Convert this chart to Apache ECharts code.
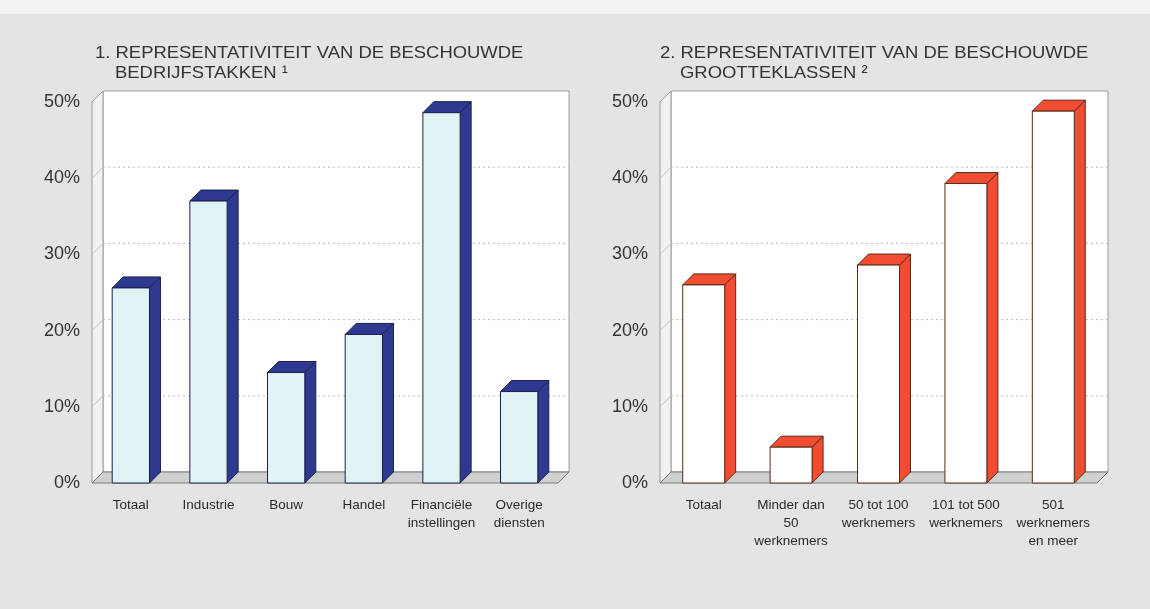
<!DOCTYPE html>
<html>
<head>
<meta charset="utf-8">
<script src="https://cdn.jsdelivr.net/npm/echarts@6/dist/echarts.min.js"></script>
<style>
  html, body { margin: 0; padding: 0; background: #e3e5e4; }
  #chart { width: 1150px; height: 609px; }
</style>
</head>
<body>
<div id="chart"></div>
<script>
// Sector representativeness (share of firms, %)
const sectorCategories = ['Totaal', 'Industrie', 'Bouw', 'Handel', 'Financiële\ninstellingen', 'Overige\ndiensten'];
const sectorValues = [25.6, 37.0, 14.5, 19.5, 48.6, 12.0];

// Size-class representativeness (share of firms, %)
const sizeCategories = ['Totaal', 'Minder dan\n50\nwerknemers', '50 tot 100\nwerknemers', '101 tot 500\nwerknemers', '501\nwerknemers\nen meer'];
const sizeValues = [26.0, 4.7, 28.6, 39.3, 48.8];

const yTicks = [0, 10, 20, 30, 40, 50];

// Panel headings: number, first line, second line
const panelTitles = [
  ['1.', 'REPRESENTATIVITEIT VAN DE BESCHOUWDE', 'BEDRIJFSTAKKEN ¹'],
  ['2.', 'REPRESENTATIVITEIT VAN DE BESCHOUWDE', 'GROOTTEKLASSEN ²']
];

const DEPTH = 11;          // oblique depth offset of the 3D look
const BAR_RATIO = 0.48;    // bar width as share of the category band
const FONT = 'Liberation Sans, Arial, Helvetica, sans-serif';

// Back wall, side wall, floor and wall gridlines of the 3D frame
function frameRenderer(params, api) {
  const cs = params.coordSys;
  const xL = cs.x, xR = cs.x + cs.width, yT = cs.y, yB = cs.y + cs.height;
  const D = DEPTH;
  const children = [
    { type: 'rect', shape: { x: xL + D, y: yT - D, width: cs.width, height: cs.height },
      style: { fill: '#ffffff', stroke: '#9a9a9a', lineWidth: 1 } },
    { type: 'polygon', shape: { points: [[xL, yT], [xL + D, yT - D], [xL + D, yB - D], [xL, yB]] },
      style: { fill: '#f0f1f1', stroke: '#9a9a9a', lineWidth: 1 } },
    { type: 'polygon', shape: { points: [[xL, yB], [xL + D, yB - D], [xR + D, yB - D], [xR, yB]] },
      style: { fill: '#cfd1d1', stroke: '#7a7a7a', lineWidth: 1 } }
  ];
  yTicks.forEach(function (t) {
    if (t === 0 || t === 50) return;
    const y = api.coord([0, t])[1] - D;
    children.push({ type: 'line', shape: { x1: xL + D, y1: y, x2: xR + D, y2: y },
      style: { stroke: '#bcbcbc', lineWidth: 1, lineDash: [2, 3] } });
    children.push({ type: 'line', shape: { x1: xL, y1: y + D, x2: xL + D, y2: y },
      style: { stroke: '#c4c4c4', lineWidth: 1 } });
  });
  return { type: 'group', children: children };
}

function barRenderer(front, dark, edge) {
  return function (params, api) {
    const idx = api.value(0), v = api.value(1);
    const base = api.coord([idx, 0]);
    const top = api.coord([idx, v]);
    const bw = api.size([1, 0])[0] * BAR_RATIO;
    const x0 = base[0] - bw / 2, x1 = base[0] + bw / 2;
    const yT = top[1], yB = base[1];
    const D = DEPTH;
    return {
      type: 'group',
      children: [
        { type: 'polygon', shape: { points: [[x1, yT], [x1 + D, yT - D], [x1 + D, yB - D], [x1, yB]] },
          style: { fill: dark, stroke: edge, lineWidth: 1 } },
        { type: 'polygon', shape: { points: [[x0, yT], [x1, yT], [x1 + D, yT - D], [x0 + D, yT - D]] },
          style: { fill: dark, stroke: edge, lineWidth: 1 } },
        { type: 'rect', shape: { x: x0, y: yT, width: bw, height: yB - yT },
          style: { fill: front, stroke: edge, lineWidth: 1 } }
      ]
    };
  };
}

function xAxisFor(cats, gridIndex) {
  return {
    type: 'category', gridIndex: gridIndex, data: cats,
    axisLine: { show: false }, axisTick: { show: false }, splitLine: { show: false },
    axisLabel: { fontSize: 13.5, lineHeight: 18, margin: 13, interval: 0, color: '#2a2a2a', fontFamily: FONT }
  };
}
function yAxisFor(gridIndex) {
  return {
    type: 'value', gridIndex: gridIndex, min: 0, max: 50, interval: 10,
    axisLine: { show: false }, axisTick: { show: false }, splitLine: { show: false },
    axisLabel: { fontSize: 18, margin: 12, formatter: '{value}%', color: '#333', fontFamily: FONT }
  };
}

// Heading text, slightly widened like the printed typeface
function headingText(str, x, y) {
  return {
    type: 'text', x: x, y: y, scaleX: 1.085, silent: true,
    style: { text: str, fill: '#333', font: '17px ' + FONT, verticalAlign: 'middle', align: 'left' }
  };
}
const headingX = [95, 660];
const headings = [];
panelTitles.forEach(function (t, i) {
  headings.push(headingText(t[0] + ' ' + t[1], headingX[i], 53));
  headings.push(headingText(t[2], headingX[i] + 20, 73));
});

const chart = echarts.init(document.getElementById('chart'));
chart.setOption({
  backgroundColor: '#e3e5e4',
  animation: false,
  graphic: [
    { type: 'rect', left: 0, top: 0, shape: { width: 1150, height: 14 }, style: { fill: '#f3f3f3' }, silent: true, z: -1 }
  ].concat(headings),
  grid: [
    { left: 92, right: 592, top: 102, bottom: 126 },
    { left: 660, right: 53, top: 102, bottom: 126 }
  ],
  xAxis: [xAxisFor(sectorCategories, 0), xAxisFor(sizeCategories, 1)],
  yAxis: [yAxisFor(0), yAxisFor(1)],
  series: [
    { type: 'custom', xAxisIndex: 0, yAxisIndex: 0, data: [[0, 0]], renderItem: frameRenderer, clip: false, z: 1, silent: true },
    { type: 'custom', xAxisIndex: 1, yAxisIndex: 1, data: [[0, 0]], renderItem: frameRenderer, clip: false, z: 1, silent: true },
    { type: 'custom', xAxisIndex: 0, yAxisIndex: 0, clip: false, z: 2,
      data: sectorValues.map(function (v, i) { return [i, v]; }),
      renderItem: barRenderer('#e0f4f6', '#2e3a92', '#1c1f4a') },
    { type: 'custom', xAxisIndex: 1, yAxisIndex: 1, clip: false, z: 2,
      data: sizeValues.map(function (v, i) { return [i, v]; }),
      renderItem: barRenderer('#ffffff', '#f24c33', '#5a2a1a') }
  ]
});
</script>
</body>
</html>
